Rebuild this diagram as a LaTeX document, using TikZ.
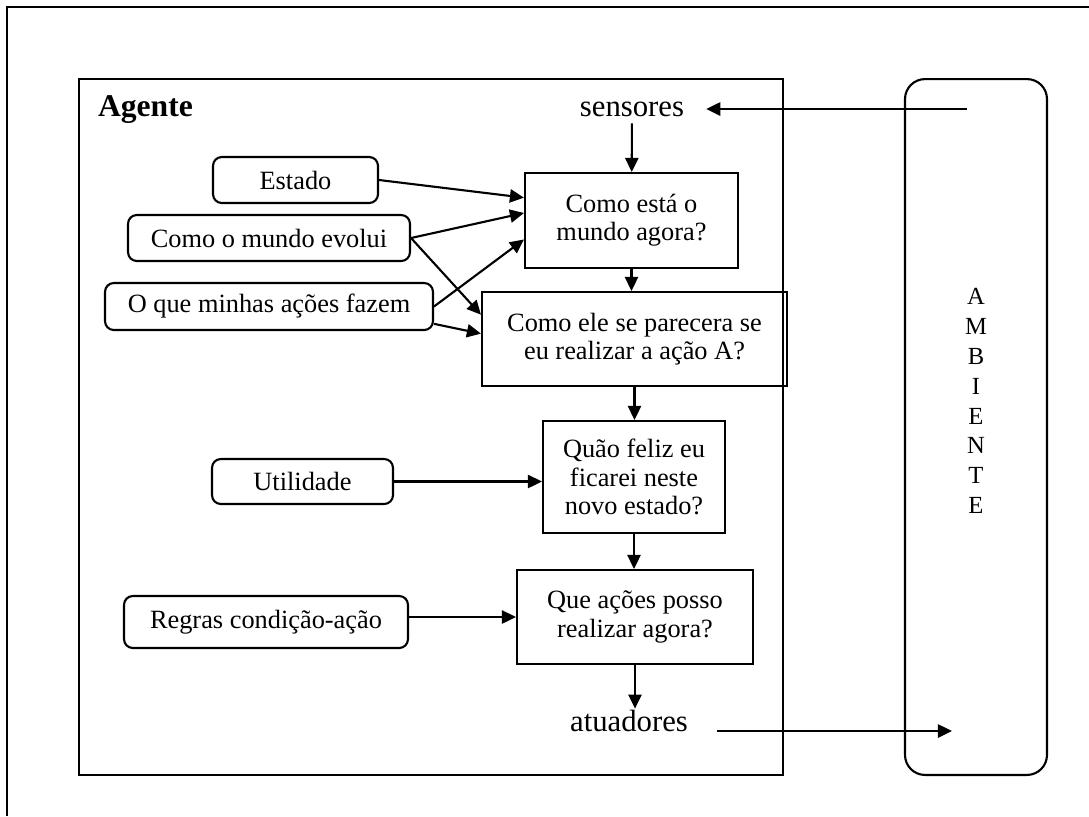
\documentclass[tikz,border=0pt]{standalone}
\usepackage{fontspec}
\setmainfont{Liberation Serif}
\usetikzlibrary{arrows.meta}

\begin{document}
\begin{tikzpicture}[x=0.02cm,y=-0.02cm,line width=1.2pt,
    rbox/.style={draw,rounded corners=5pt,inner sep=0pt,
      font=\fontsize{15}{16}\selectfont},
    mbox/.style={draw,inner sep=0pt,align=center,
      font=\fontsize{15}{16}\selectfont},
    lbl/.style={font=\fontsize{17.5}{20}\selectfont},
    arr/.style={-{Triangle[length=8pt,width=7.5pt]}}
  ]
    \useasboundingbox (0,0) rectangle (1089,816);
    \draw (7,816) -- (7,7) -- (1089,7);

    \node[draw,minimum width=14.08cm,minimum height=13.92cm,inner sep=0pt]
      (agbox) at (431,427) {};
    \node[draw,rounded corners=0.4cm,minimum width=2.84cm,
      minimum height=13.92cm,inner sep=0pt] (amb) at (976,427) {};
    \node[align=center,font=\fontsize{14}{17}\selectfont] (ambtxt) at (976,401)
      {A\\M\\B\\I\\E\\N\\T\\E};

    \node[font=\fontsize{18}{20}\selectfont\bfseries,anchor=west,inner sep=0pt]
      (agt) at (97,110) {Agente};
    \node[lbl,inner xsep=12pt] (sens) at (632,109) {sensores};
    \node[lbl,anchor=base,inner xsep=16pt,inner ysep=0pt] (atu) at (629,731)
      {atuadores};
    \coordinate (envS) at (967,109);
    \coordinate (envA) at (952,731);

    \node[rbox,minimum width=3.3cm,minimum height=0.92cm] (est) at (295.5,180)
      {Estado};
    \node[rbox,minimum width=5.64cm,minimum height=0.92cm] (evo) at (269,238)
      {Como o mundo evolui};
    \node[rbox,minimum width=6.56cm,minimum height=0.94cm] (acs) at (269,306.5)
      {O que minhas ações fazem};
    \node[rbox,minimum width=3.62cm,minimum height=0.9cm] (util) at (302.5,481.5)
      {Utilidade};
    \node[rbox,minimum width=5.68cm,minimum height=1.04cm] (regr) at (266,622)
      {Regras condição-ação};

    \node[mbox,minimum width=4.26cm,minimum height=1.9cm] (b1) at (631.5,220.5)
      {Como está o\\mundo agora?};
    \node[mbox,minimum width=6.1cm,minimum height=1.88cm] (b2) at (634.5,339)
      {Como ele se parecera se\\eu realizar a ação A?};
    \node[mbox,minimum width=3.64cm,minimum height=2.24cm] (b3) at (634,477)
      {Quão feliz eu\\ficarei neste\\novo estado?};
    \node[mbox,minimum width=4.72cm,minimum height=1.88cm] (b4) at (635,617)
      {Que ações posso\\realizar agora?};

    \draw[arr] (envS) -- (sens);
    \draw[arr] (sens) -- (b1);
    \draw[arr] (b1.south) -- (b1.south |- b2.north);
    \draw[arr] (b2.south) -- (b2.south |- b3.north);
    \draw[arr] (b3.south) -- (b3.south |- b4.north);
    \draw[arr] (b4.south) -- (b4.south |- atu.north);
    \draw[arr] (atu.base east) -- (envA);

    \draw[arr] (est.east) -- (b1.168);
    \draw[arr] (evo.east) -- (b1.176);
    \draw[arr] (evo.east) -- (b2.171);
    \draw[arr] (acs.east) -- (b1.190);
    \draw[arr] (acs.-6) -- (b2.178);
    \draw[arr] (util) -- (util -| b3.west);
    \draw[arr] (b4.west -| regr.east) -- (b4.west);
  \end{tikzpicture}
\end{document}
